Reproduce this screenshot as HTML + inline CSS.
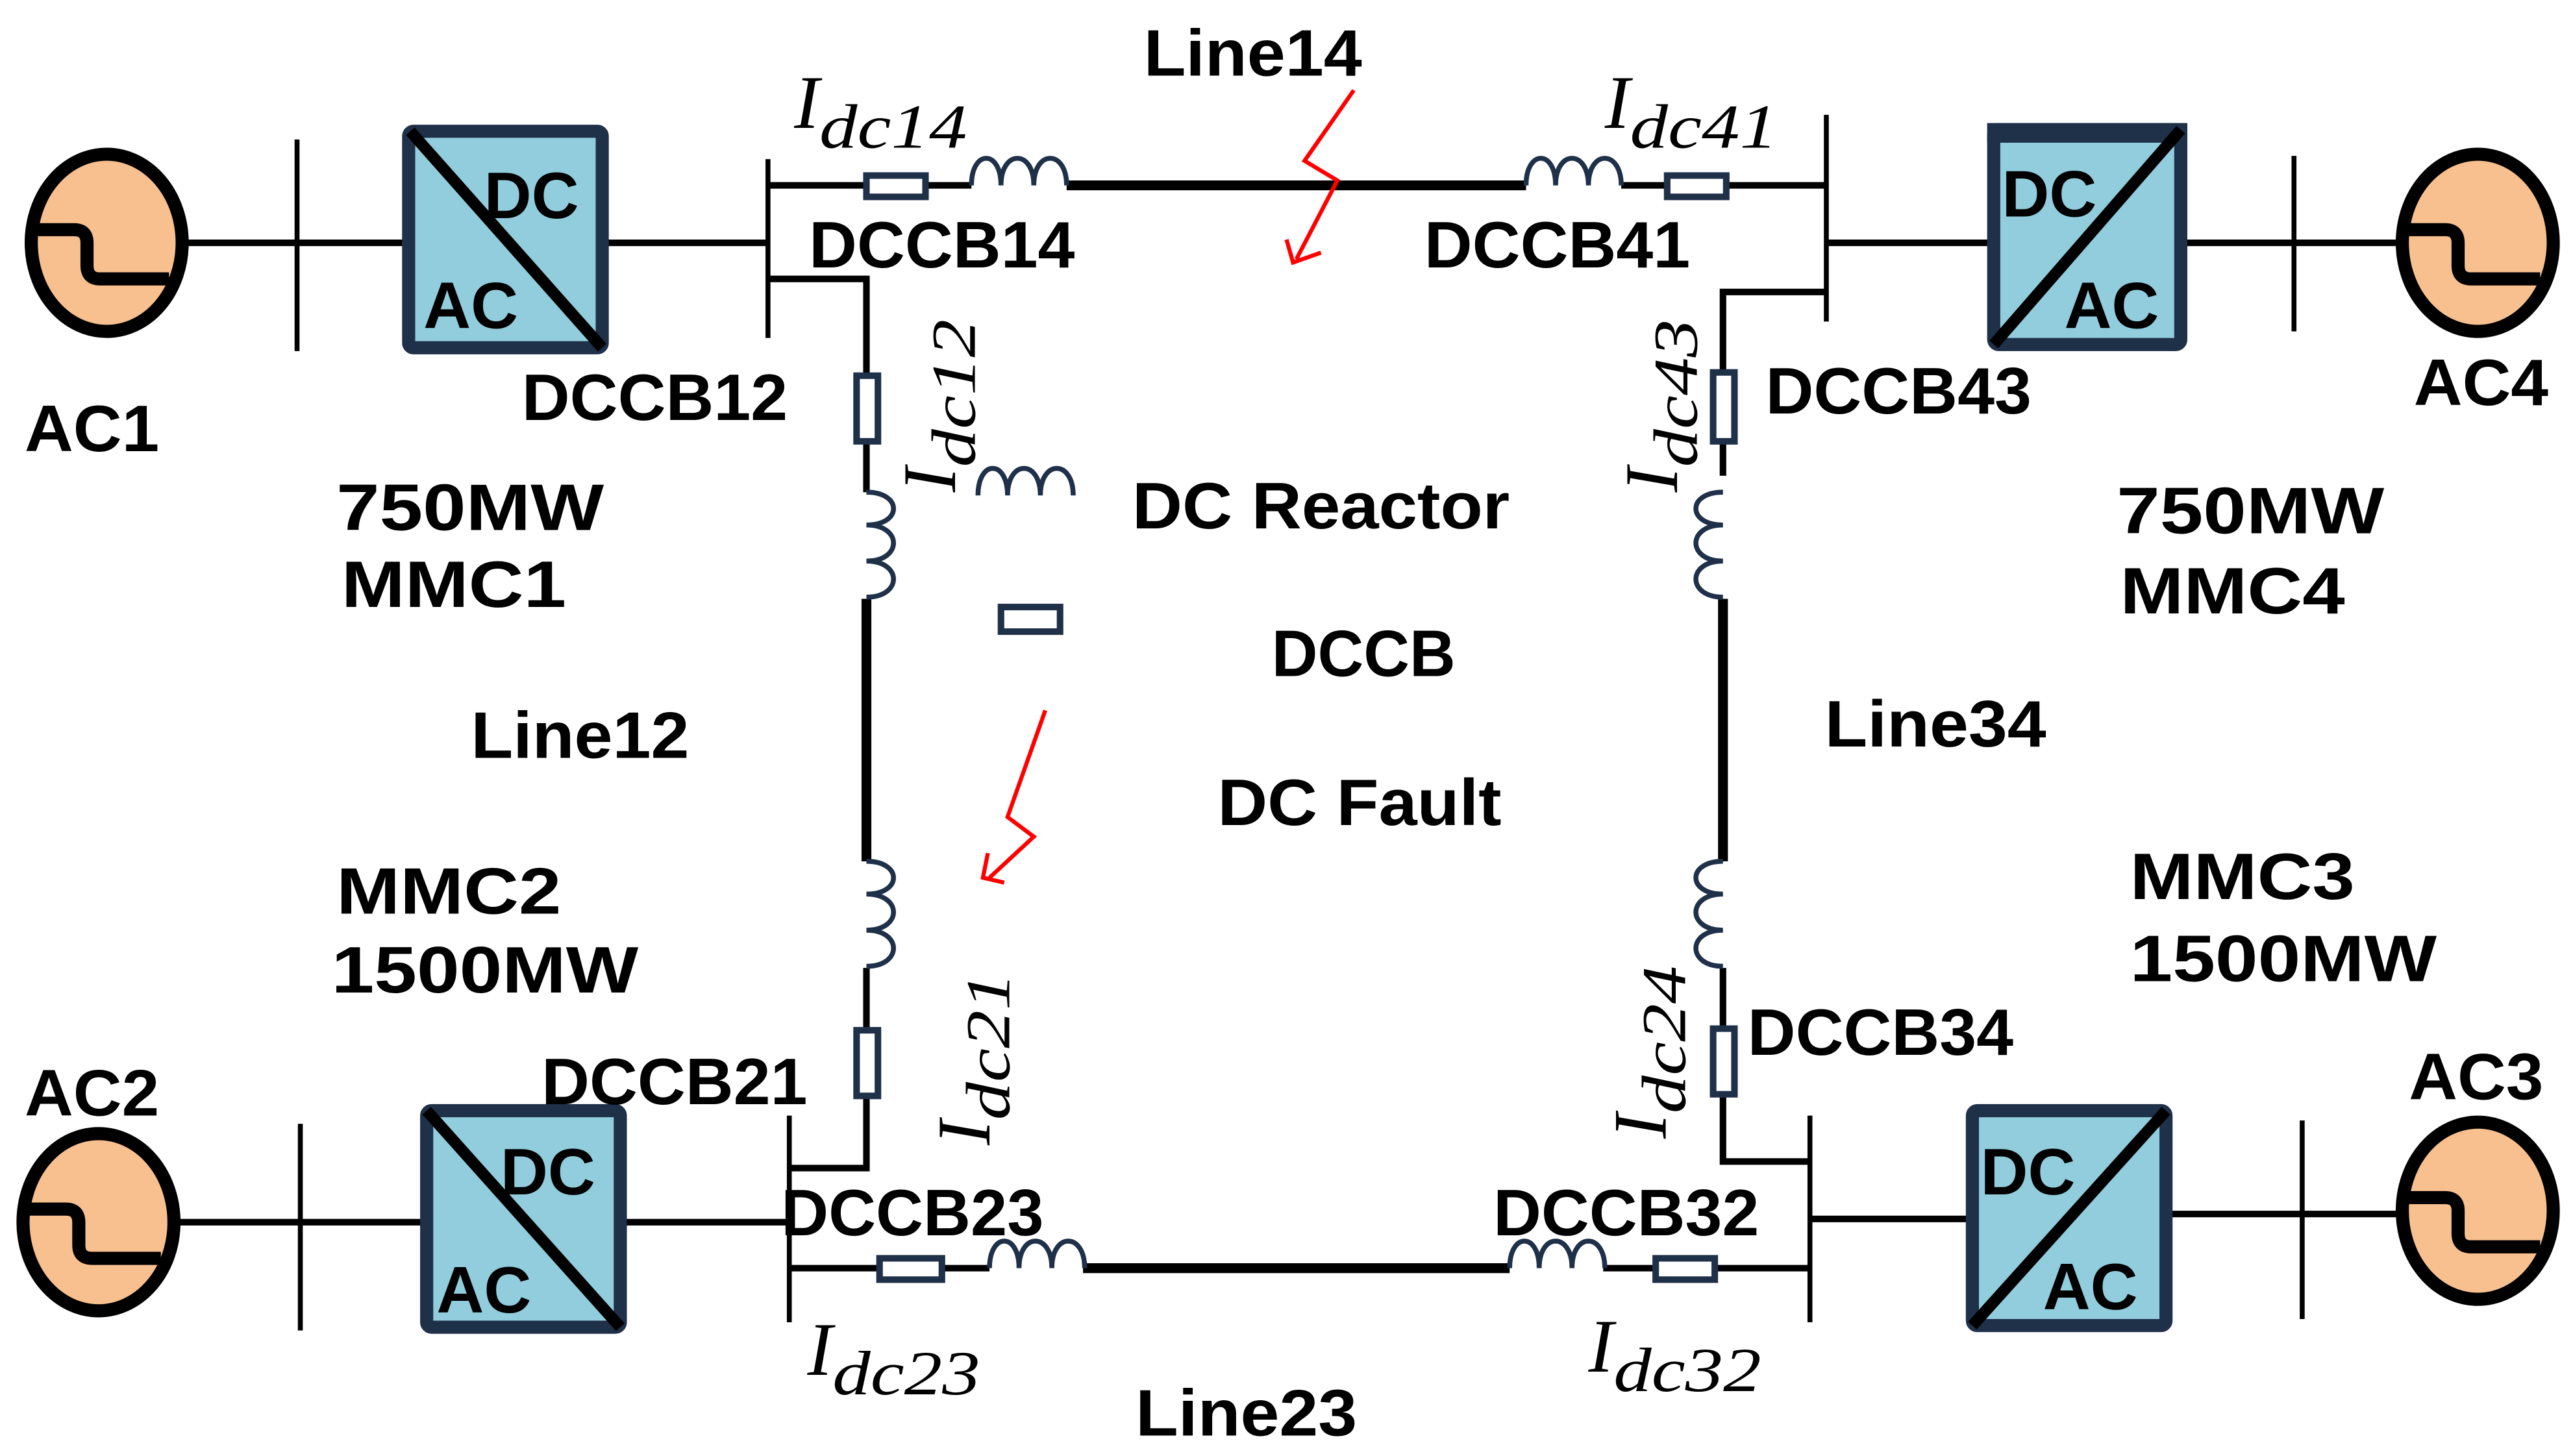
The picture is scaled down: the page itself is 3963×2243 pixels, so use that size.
<!DOCTYPE html>
<html><head><meta charset="utf-8"><style>
html,body{margin:0;padding:0;background:#fff;}
svg{display:block;}
.t{font-family:"Liberation Sans",sans-serif;font-weight:bold;font-size:40px;fill:#000;}
.i{font-family:"Liberation Serif",serif;font-style:italic;fill:#000;}
</style></head><body>
<svg width="3963" height="2243" viewBox="0 0 1568 887.5" xmlns="http://www.w3.org/2000/svg">
<defs>
<g id="indH"><path d="M0,0 c0,-22 18,-22 18,0 c0,-22 20,-22 20,0 c0,-22 20,-22 20,0" fill="none" stroke="#1f3049" stroke-width="3"/></g>
<g id="indV"><path d="M0,0 c22,0 22,20 0,20 c22,0 22,22 0,22 c22,0 22,22 0,22" fill="none" stroke="#1f3049" stroke-width="3"/></g>
<g id="src">
<ellipse cx="0" cy="0" rx="46" ry="54" fill="#f8c08f" stroke="#000" stroke-width="8"/>
<path d="M-42,-8 H-20 Q-12,-8 -12,0 V14 Q-12,22 -4,22 H38" fill="none" stroke="#000" stroke-width="8"/>
</g>
</defs>
<g stroke="#000" fill="none">
<line x1="112" y1="148" x2="247" y2="148" stroke-width="4"/>
<line x1="181" y1="85" x2="181" y2="214" stroke-width="3"/>
<line x1="369" y1="148" x2="468" y2="148" stroke-width="4"/>
<line x1="468" y1="97" x2="468" y2="206" stroke-width="3"/>
<line x1="468" y1="113" x2="527" y2="113" stroke-width="4"/>
<line x1="565" y1="113" x2="592" y2="113" stroke-width="4"/>
<line x1="650" y1="113" x2="930" y2="113" stroke-width="6"/>
<line x1="988" y1="113" x2="1015" y2="113" stroke-width="4"/>
<line x1="1053" y1="113" x2="1113" y2="113" stroke-width="4"/>
<line x1="1113" y1="70" x2="1113" y2="196" stroke-width="3"/>
<line x1="1113" y1="148" x2="1213" y2="148" stroke-width="4"/>
<line x1="1330" y1="148" x2="1465" y2="148" stroke-width="4"/>
<line x1="1398" y1="95" x2="1398" y2="202" stroke-width="3"/>
<polyline points="468,170 528,170 528,228" stroke-width="4"/>
<line x1="528" y1="270" x2="528" y2="300" stroke-width="4"/>
<line x1="528" y1="365" x2="528" y2="525" stroke-width="6"/>
<line x1="528" y1="590" x2="528" y2="628" stroke-width="4"/>
<polyline points="528,668 528,712 481,712" stroke-width="4"/>
<polyline points="1113,178 1050,178 1050,226" stroke-width="4"/>
<line x1="1050" y1="270" x2="1050" y2="290" stroke-width="4"/>
<line x1="1050" y1="365" x2="1050" y2="525" stroke-width="6"/>
<line x1="1050" y1="590" x2="1050" y2="626" stroke-width="4"/>
<polyline points="1050,668 1050,708 1103,708" stroke-width="4"/>
<line x1="108" y1="745" x2="258" y2="745" stroke-width="4"/>
<line x1="183" y1="685" x2="183" y2="811" stroke-width="3"/>
<line x1="380" y1="745" x2="481" y2="745" stroke-width="4"/>
<line x1="481" y1="680" x2="481" y2="806" stroke-width="3"/>
<line x1="481" y1="773" x2="535" y2="773" stroke-width="4"/>
<line x1="575" y1="773" x2="603" y2="773" stroke-width="4"/>
<line x1="660" y1="773" x2="920" y2="773" stroke-width="6"/>
<line x1="977" y1="773" x2="1008" y2="773" stroke-width="4"/>
<line x1="1046" y1="773" x2="1103" y2="773" stroke-width="4"/>
<line x1="1103" y1="680" x2="1103" y2="806" stroke-width="3"/>
<line x1="1103" y1="743" x2="1200" y2="743" stroke-width="4"/>
<line x1="1322" y1="740" x2="1465" y2="740" stroke-width="4"/>
<line x1="1403" y1="683" x2="1403" y2="804" stroke-width="3"/>
</g>
<use href="#src" x="65" y="148"/>
<use href="#src" x="1510" y="148"/>
<use href="#src" x="60" y="745"/>
<use href="#src" x="1510" y="738"/>
<g stroke="#1f3049" stroke-width="8" fill="#92cddd">
<rect x="249" y="80" width="118" height="132" rx="3"/>
<rect x="1215" y="79" width="114" height="131" rx="3"/>
<rect x="260" y="677" width="118" height="132" rx="3"/>
<rect x="1202" y="677" width="118" height="131" rx="3"/>
</g>
<text class="t" x="1220" y="132">DC</text>
<rect x="1211" y="75" width="122" height="12" fill="#1f3049"/>
<g stroke="#000" stroke-width="7">
<line x1="250" y1="80" x2="367" y2="212"/>
<line x1="1215" y1="210" x2="1329" y2="79"/>
<line x1="260" y1="677" x2="378" y2="809"/>
<line x1="1202" y1="808" x2="1320" y2="677"/>
</g>
<text class="t" x="295" y="133">DC</text><text class="t" x="258" y="200">AC</text>
<text class="t" x="1258" y="200">AC</text>
<text class="t" x="305" y="728">DC</text><text class="t" x="266" y="800">AC</text>
<text class="t" x="1207" y="728">DC</text><text class="t" x="1245" y="798">AC</text>
<g fill="#fff" stroke="#1f3049" stroke-width="4">
<rect x="528" y="107" width="36" height="13"/>
<rect x="1016" y="107" width="36" height="13"/>
<rect x="522" y="229" width="13" height="40"/>
<rect x="1044" y="227" width="13" height="42"/>
<rect x="522" y="628" width="13" height="40"/>
<rect x="1044" y="627" width="13" height="40"/>
<rect x="536" y="767" width="38" height="13"/>
<rect x="1009" y="767" width="36" height="13"/>
<rect x="610" y="370" width="36" height="15"/>
</g>
<use href="#indH" x="592" y="113"/>
<use href="#indH" x="930" y="113"/>
<use href="#indH" x="603" y="773"/>
<use href="#indH" x="920" y="773"/>
<use href="#indH" x="596" y="302"/>
<use href="#indV" x="528" y="300"/>
<use href="#indV" x="528" y="525"/>
<use href="#indV" x="1050" y="300" transform="translate(2100,0) scale(-1,1)"/>
<use href="#indV" x="1050" y="525" transform="translate(2100,0) scale(-1,1)"/>
<g stroke="#f00" stroke-width="2.5" fill="none">
<polyline points="825,55 795,98 815,110 790,158"/>
<polyline points="784,146 788,160 805,154"/>
<polyline points="637,433 614,498 630,510 603,535"/>
<polyline points="602,520 599,535 612,538"/>
</g>
<g lengthAdjust="spacingAndGlyphs">
<text class="t" x="697" y="46" textLength="133" lengthAdjust="spacingAndGlyphs">Line14</text>
<text class="t" x="493" y="163" textLength="162" lengthAdjust="spacingAndGlyphs">DCCB14</text>
<text class="t" x="868" y="163" textLength="162" lengthAdjust="spacingAndGlyphs">DCCB41</text>
<text class="t" x="318" y="256" textLength="162" lengthAdjust="spacingAndGlyphs">DCCB12</text>
<text class="t" x="1076" y="252" textLength="162" lengthAdjust="spacingAndGlyphs">DCCB43</text>
<text class="t" x="15" y="275" textLength="82" lengthAdjust="spacingAndGlyphs">AC1</text>
<text class="t" x="1471" y="247" textLength="82" lengthAdjust="spacingAndGlyphs">AC4</text>
<text class="t" x="205" y="323" textLength="163" lengthAdjust="spacingAndGlyphs">750MW</text>
<text class="t" x="208" y="370" textLength="137" lengthAdjust="spacingAndGlyphs">MMC1</text>
<text class="t" x="1290" y="325" textLength="163" lengthAdjust="spacingAndGlyphs">750MW</text>
<text class="t" x="1292" y="374" textLength="137" lengthAdjust="spacingAndGlyphs">MMC4</text>
<text class="t" x="690" y="322" textLength="230" lengthAdjust="spacingAndGlyphs">DC Reactor</text>
<text class="t" x="775" y="412" textLength="112" lengthAdjust="spacingAndGlyphs">DCCB</text>
<text class="t" x="742" y="503" textLength="173" lengthAdjust="spacingAndGlyphs">DC Fault</text>
<text class="t" x="287" y="462" textLength="133" lengthAdjust="spacingAndGlyphs">Line12</text>
<text class="t" x="1112" y="455" textLength="135" lengthAdjust="spacingAndGlyphs">Line34</text>
<text class="t" x="205" y="557" textLength="137" lengthAdjust="spacingAndGlyphs">MMC2</text>
<text class="t" x="202" y="605" textLength="187" lengthAdjust="spacingAndGlyphs">1500MW</text>
<text class="t" x="1298" y="548" textLength="137" lengthAdjust="spacingAndGlyphs">MMC3</text>
<text class="t" x="1298" y="598" textLength="187" lengthAdjust="spacingAndGlyphs">1500MW</text>
<text class="t" x="330" y="673" textLength="162" lengthAdjust="spacingAndGlyphs">DCCB21</text>
<text class="t" x="1065" y="643" textLength="162" lengthAdjust="spacingAndGlyphs">DCCB34</text>
<text class="t" x="15" y="680" textLength="82" lengthAdjust="spacingAndGlyphs">AC2</text>
<text class="t" x="1468" y="670" textLength="82" lengthAdjust="spacingAndGlyphs">AC3</text>
<text class="t" x="476" y="753" textLength="160" lengthAdjust="spacingAndGlyphs">DCCB23</text>
<text class="t" x="910" y="753" textLength="162" lengthAdjust="spacingAndGlyphs">DCCB32</text>
<text class="t" x="692" y="875" textLength="135" lengthAdjust="spacingAndGlyphs">Line23</text>
</g>
<text class="i" x="484" y="78" font-size="46">I<tspan font-size="38" dy="12" textLength="90" lengthAdjust="spacingAndGlyphs">dc14</tspan></text>
<text class="i" x="978" y="78" font-size="46">I<tspan font-size="38" dy="12" textLength="90" lengthAdjust="spacingAndGlyphs">dc41</tspan></text>
<text class="i" x="492" y="838" font-size="46">I<tspan font-size="38" dy="12" textLength="90" lengthAdjust="spacingAndGlyphs">dc23</tspan></text>
<text class="i" x="968" y="836" font-size="46">I<tspan font-size="38" dy="12" textLength="90" lengthAdjust="spacingAndGlyphs">dc32</tspan></text>
<text class="i" font-size="46" transform="translate(582,300) rotate(-90)">I<tspan font-size="38" dy="12" textLength="90" lengthAdjust="spacingAndGlyphs">dc12</tspan></text>
<text class="i" font-size="46" transform="translate(1022,300) rotate(-90)">I<tspan font-size="38" dy="12" textLength="90" lengthAdjust="spacingAndGlyphs">dc43</tspan></text>
<text class="i" font-size="46" transform="translate(603,698) rotate(-90)">I<tspan font-size="38" dy="12" textLength="90" lengthAdjust="spacingAndGlyphs">dc21</tspan></text>
<text class="i" font-size="46" transform="translate(1015,694) rotate(-90)">I<tspan font-size="38" dy="12" textLength="90" lengthAdjust="spacingAndGlyphs">dc24</tspan></text>
</svg>
</body></html>
